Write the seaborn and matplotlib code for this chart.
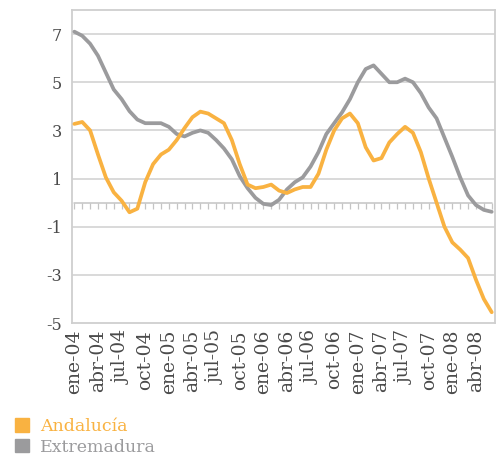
import matplotlib
matplotlib.use("Agg")
import matplotlib.pyplot as plt
import pandas as pd
import seaborn as sns
from matplotlib.patches import Patch

# Monthly series, ene-04 .. jun-08 (54 points)
andalucia = [3.27, 3.35, 3.0, 2.0, 1.05, 0.43, 0.08, -0.4, -0.25, 0.85,
             1.6, 2.0, 2.2, 2.6, 3.1, 3.55, 3.78, 3.7, 3.5, 3.3,
             2.6, 1.6, 0.75, 0.6, 0.65, 0.75, 0.5, 0.4, 0.55, 0.65,
             0.65, 1.2, 2.2, 3.0, 3.5, 3.7, 3.3, 2.3, 1.75, 1.85,
             2.5, 2.85, 3.15, 2.9, 2.1, 1.0, 0.0, -1.0, -1.65, -1.95,
             -2.3, -3.2, -4.0, -4.55]
extremadura = [7.1, 6.93, 6.6, 6.1, 5.4, 4.7, 4.3, 3.8, 3.45, 3.3,
               3.3, 3.3, 3.15, 2.85, 2.75, 2.9, 3.0, 2.9, 2.6, 2.25,
               1.8, 1.1, 0.6, 0.2, -0.05, -0.1, 0.12, 0.55, 0.85, 1.05,
               1.5, 2.1, 2.85, 3.3, 3.75, 4.3, 5.0, 5.55, 5.7, 5.35,
               5.0, 5.0, 5.15, 5.0, 4.55, 3.95, 3.5, 2.7, 1.9, 1.05,
               0.3, -0.1, -0.3, -0.38]

tick_labels = ["ene-04", "abr-04", "jul-04", "oct-04", "ene-05", "abr-05",
               "jul-05", "oct-05", "ene-06", "abr-06", "jul-06", "oct-06",
               "ene-07", "abr-07", "jul-07", "oct-07", "ene-08", "abr-08"]
y_ticks = [7, 5, 3, 1, -1, -3, -5]

orange = "#F9B241"
gray = "#9B9B9D"
grid_c = "#CFCFCF"
text_c = "#4A4A4A"

n = len(andalucia)
df = pd.DataFrame({
    "mes": list(range(n)) * 2,
    "valor": andalucia + extremadura,
    "region": ["Andalucía"] * n + ["Extremadura"] * n,
})

sns.set_style("white")
plt.rcParams["font.family"] = ["DejaVu Serif"]

fig = plt.figure(figsize=(5.01, 4.55), dpi=100)
ax = fig.add_axes([0.1437, 0.290, 0.844, 0.688])

# grid lines first so the series sit on top
for v in y_ticks[:-1]:
    ax.axhline(v, color=grid_c, lw=1.1, zorder=0)
# zero line with small ticks
ax.plot(range(n), [0] * n, color="#C4C4C4", lw=1.1, marker=3,
        markersize=4, markeredgewidth=0.9, zorder=1)

sns.lineplot(data=df, x="mes", y="valor", hue="region",
             palette={"Andalucía": orange, "Extremadura": gray},
             hue_order=["Extremadura", "Andalucía"],
             linewidth=2.7, legend=False, ax=ax, zorder=3)

ax.set_xlim(-0.3, n - 1 + 0.4)
ax.set_ylim(-5, 8)
ax.set_yticks(y_ticks)
ax.set_yticklabels([str(v) for v in y_ticks])
ax.set_xticks(range(0, n, 3))
ax.set_xticklabels(tick_labels, rotation=90)
ax.set_xlabel("")
ax.set_ylabel("")

for s in ax.spines.values():
    s.set_color(grid_c)
    s.set_linewidth(1.3)
ax.tick_params(axis="y", length=3, color=grid_c, labelsize=11.5,
               labelcolor=text_c, pad=4)
ax.tick_params(axis="x", length=0, labelsize=13.5, labelcolor=text_c, pad=5)

handles = [Patch(color=orange), Patch(color=gray)]
fig.legend(handles, ["Andalucía", "Extremadura"], loc="lower left",
           bbox_to_anchor=(0.01, -0.024), frameon=False, fontsize=12.5,
           labelcolor=[orange, gray], handlelength=0.8, handleheight=0.8,
           handletextpad=0.6, labelspacing=0.2, borderaxespad=0.2)

fig.savefig("out.png", dpi=100)
